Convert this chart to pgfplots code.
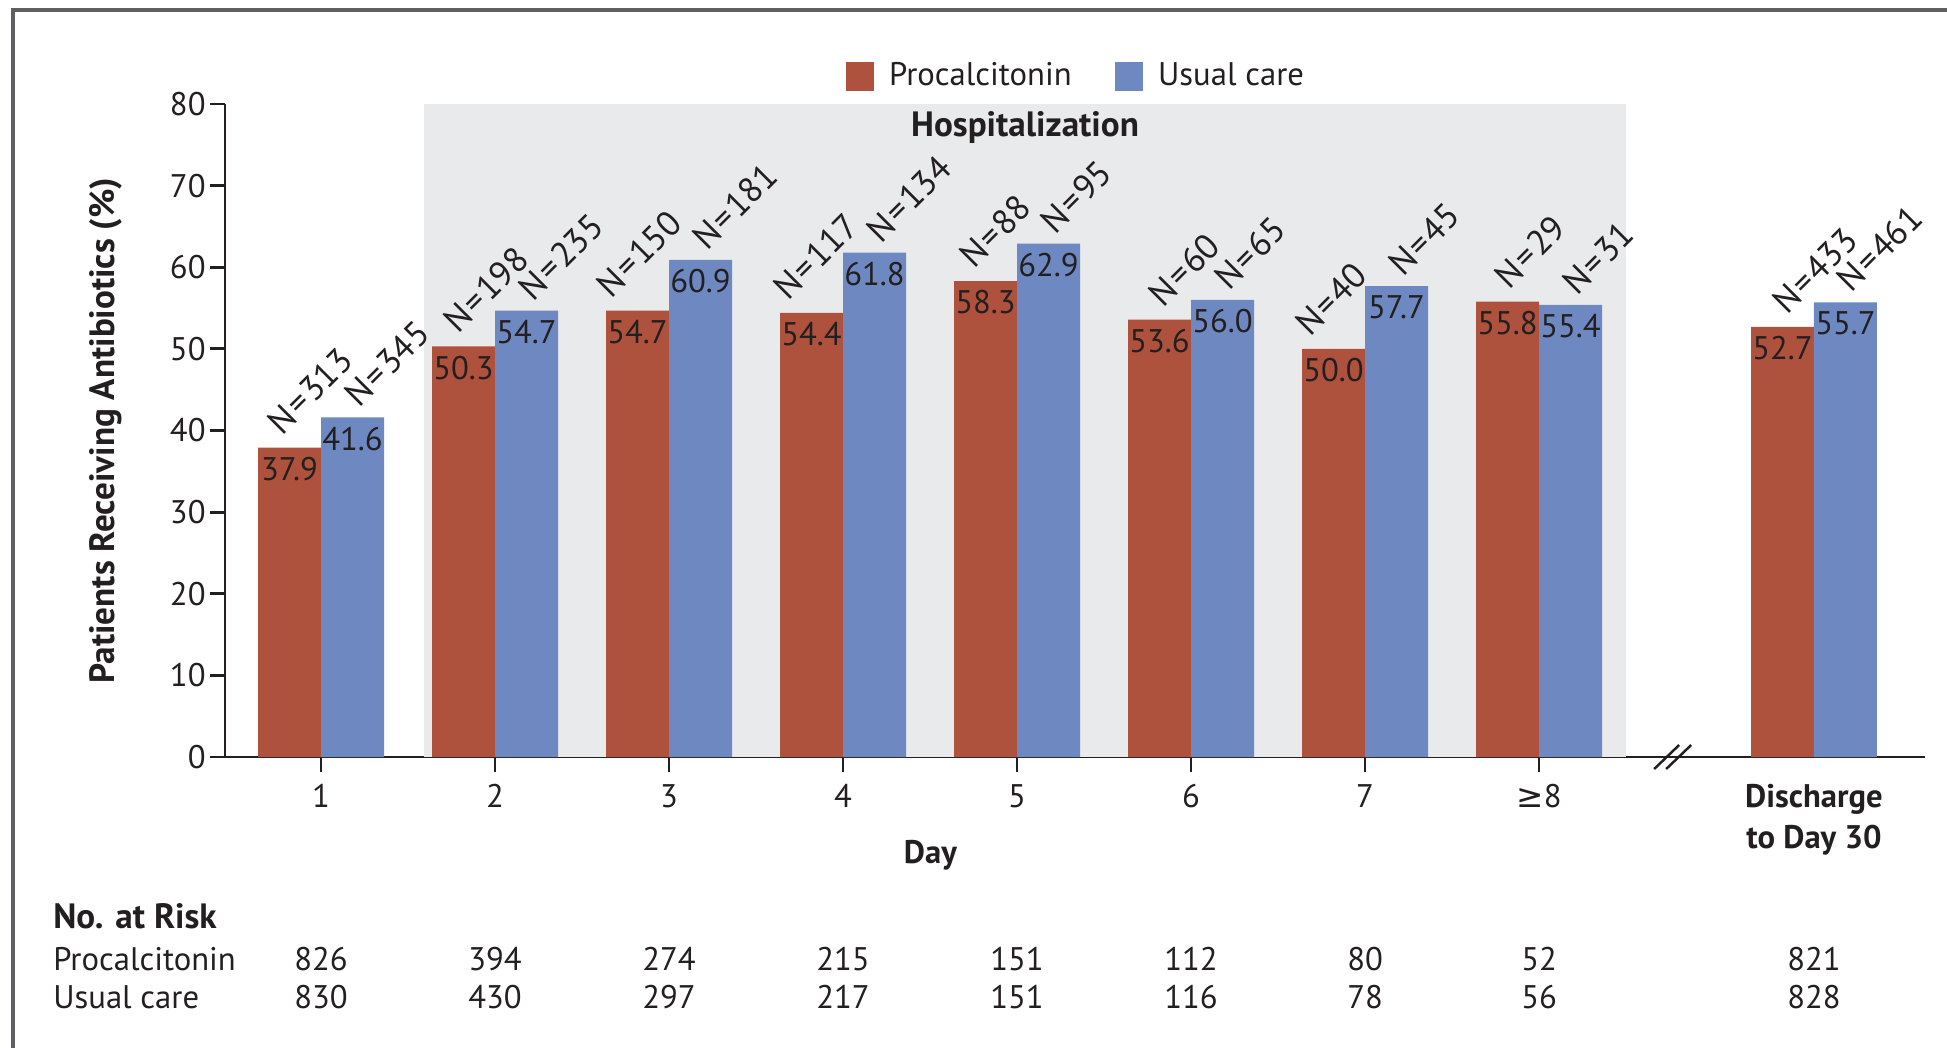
\documentclass[border=0pt]{standalone}
\usepackage{pgfplots}
\pgfplotsset{compat=1.18}
\usepackage{pgfplotstable}
\usepackage{fontspec}
\setmainfont{PT Sans}
\newfontfamily\dejavu{DejaVu Sans}

\definecolor{pctred}{HTML}{AE523D}
\definecolor{ucblue}{HTML}{6E89C1}
\definecolor{hospgray}{HTML}{E9EAEC}
\definecolor{framegray}{HTML}{606064}
\definecolor{ink}{HTML}{231F20}

% day, % procalcitonin, % usual care, N per bar,
% sp = sideways nudge (px) of the procalcitonin N label
\pgfplotstableread{
x     pct   usual  np   nu   sp
1     37.9  41.6   313  345  -8
2     50.3  54.7   198  235  -6
3     54.7  60.9   150  181  -27
4     54.4  61.8   117  134  -24
5     58.3  62.9   88   95   -12
6     53.6  56.0   60   65   3
7     50.0  57.7   40   45   -24
8     55.8  55.4   29   31   1
9.58  52.7  55.7   433  461  4
}\antibio

\pgfplotsset{
  value label/.style={only marks, mark=*, mark size=0pt, forget plot,
    point meta=y,
    nodes near coords={\pgfmathprintnumber[fixed,fixed zerofill,precision=1]{\pgfplotspointmeta}},
    nodes near coords align={anchor=north},
    nodes near coords style={text=ink, inner sep=2.5pt}},
  n label/.style={only marks, mark=*, mark size=0pt, forget plot,
    point meta=explicit symbolic,
    nodes near coords={N{\kern0.06em}={\kern0.06em}\pgfplotspointmeta},
    nodes near coords align={anchor=base west},
    nodes near coords style={yshift=#1, rotate=45, text=ink,
      inner sep=0pt, font=\fontsize{10}{12}\selectfont}},
}

\begin{document}
\begin{tikzpicture}[font=\fontsize{9.3}{11.5}\selectfont, text=ink]
\useasboundingbox (0,0) rectangle (19.47cm,10.47cm);
\draw[framegray, line width=0.04cm] (0.135cm,-0.1cm) -- (0.135cm,10.37cm) -- (19.6cm,10.37cm);
\begin{axis}[
  at={(2.25cm,2.90cm)}, anchor=south west,
  scale only axis, width=17cm, height=6.53cm,
  xmin=0.448, xmax=10.218, ymin=0, ymax=80,
  axis x line=bottom, axis y line=left,
  axis line style={-, ink, line width=0.8pt},
  tick style={ink, line width=0.8pt},
  tick align=outside, major tick length=0.15cm,
  xtick={1,...,8},
  xticklabels={1,2,3,4,5,6,7,{\dejavu≥}8},
  ytick={0,10,...,80},
  minor tick num=0,
  every tick label/.append style={text=ink, font=\fontsize{9.3}{11.5}\selectfont},
  yticklabel style={xshift=0.08cm},
  /pgf/number format/assume math mode=true,
  ylabel={\bfseries\fontsize{10}{12}\selectfont Patients Receiving Antibiotics (\%)},
  ylabel style={at={(axis description cs:-0.070,0.5)}, anchor=center},
  xlabel={\bfseries Day},
  xlabel style={at={(axis description cs:0.415,-0.150)}, anchor=center},
  clip=false,
  legend style={at={(0.502,1.042)}, anchor=center, draw=none, fill=none,
    legend columns=2, font=\fontsize{9.3}{11.5}\selectfont,
    /tikz/every odd column/.append style={column sep=0.08cm},
    /tikz/every even column/.append style={column sep=0.36cm}},
]
\fill[hospgray] (axis cs:1.59,0) rectangle (axis cs:8.5,80);
\node[font=\bfseries] at (axis cs:5.046,77.1) {Hospitalization};

\addlegendimage{legend image code/.code={\fill[pctred] (0cm,-0.135cm) rectangle (0.27cm,0.135cm);}}
\addlegendentry{Procalcitonin}
\addlegendimage{legend image code/.code={\fill[ucblue] (0cm,-0.135cm) rectangle (0.27cm,0.135cm);}}
\addlegendentry{Usual care}

\addplot[ybar, bar width=0.362, bar shift=-0.181, fill=pctred, draw=none, forget plot]
  table[x=x, y=pct] {\antibio};
\addplot[ybar, bar width=0.362, bar shift=0.181, fill=ucblue, draw=none, forget plot]
  table[x=x, y=usual] {\antibio};

% values inside the bar tops
\addplot[value label] table[x expr=\thisrow{x}-0.181, y=pct] {\antibio};
\addplot[value label] table[x expr=\thisrow{x}+0.181, y=usual] {\antibio};

% N labels above the bars
\addplot[n label=0.11cm] table[x expr=\thisrow{x}-0.181+\thisrow{sp}/174, y=pct, meta=np] {\antibio};
\addplot[n label=0.08cm] table[x expr=\thisrow{x}+0.181+6/174, y=usual, meta=nu] {\antibio};

% axis break
\draw[ink, line width=0.7pt] ([xshift=-0.18cm, yshift=-0.12cm]axis cs:8.765,0) -- ++(0.25cm,0.24cm);
\draw[ink, line width=0.7pt] ([xshift=-0.06cm, yshift=-0.12cm]axis cs:8.765,0) -- ++(0.25cm,0.24cm);

\node[font=\bfseries\fontsize{9.3}{11.7}\selectfont, align=center, anchor=north]
  at ([yshift=-0.15cm]axis cs:9.58,0) {Discharge\\to Day 30};

% number at risk
\node[font=\bfseries, anchor=base west] at (axis cs:-0.61,-20.96) {No. at Risk};
\node[anchor=base west] at (axis cs:-0.61,-26.1) {Procalcitonin};
\node[anchor=base west] at (axis cs:-0.61,-30.76) {Usual care};
\foreach \xx/\pp/\uu in {1/826/830, 2/394/430, 3/274/297, 4/215/217, 5/151/151,
    6/112/116, 7/80/78, 8/52/56, 9.58/821/828} {
  \edef\riskrow{\noexpand\node[anchor=base] at (axis cs:\xx,-26.1) {\pp};
    \noexpand\node[anchor=base] at (axis cs:\xx,-30.76) {\uu};}
  \riskrow
}
\end{axis}
\end{tikzpicture}
\end{document}
